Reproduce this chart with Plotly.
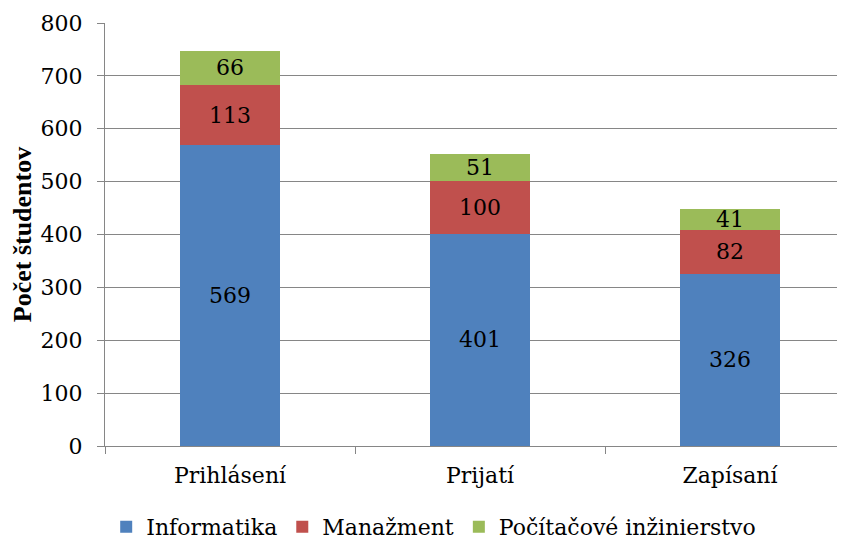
import plotly.graph_objects as go

categories = ["Prihlásení", "Prijatí", "Zapísaní"]
series_names = ["Informatika", "Manažment", "Počítačové inžinierstvo"]
informatika = [569, 401, 326]
manazment = [113, 100, 82]
pocitacove = [66, 51, 41]
colors = ["#4F81BD", "#C0504D", "#9BBB59"]

FONT = "DejaVu Serif"
SIZE = 22
fig = go.Figure()
for name, vals, col in zip(series_names, [informatika, manazment, pocitacove], colors):
    fig.add_trace(go.Bar(
        x=categories, y=vals, name=name, marker=dict(color=col, line=dict(width=0)),
        text=[str(v) for v in vals], textposition="inside", insidetextanchor="middle",
        textangle=0,
        textfont=dict(family=FONT, size=SIZE, color="black"), constraintext="none",
    ))

fig.update_layout(
    barmode="stack", bargap=0.6,
    width=860, height=542,
    margin=dict(l=97, r=13, t=15, b=104, autoexpand=False),
    paper_bgcolor="white", plot_bgcolor="white",
    font=dict(family=FONT, size=SIZE, color="black"),
    uniformtext=dict(minsize=10, mode=False),
    legend=dict(orientation="h", x=0.495, xanchor="center", xref="container",
                y=0.004, yanchor="bottom", yref="container",
                font=dict(family=FONT, size=SIZE), itemwidth=30, traceorder="normal",
                tracegroupgap=0),
    showlegend=True,
)
fig.update_yaxes(
    range=[0, 800], dtick=100, showgrid=True, gridcolor="#868686", gridwidth=1,
    showline=True, linecolor="#868686", linewidth=1,
    ticks="outside", ticklen=7, tickcolor="#868686", ticklabelstandoff=10,
    tickfont=dict(family=FONT, size=SIZE), automargin=False,
    title=dict(text="<b>Počet študentov</b>", font=dict(family="Liberation Serif", size=26), standoff=14),
    zeroline=False,
)
fig.update_xaxes(
    showline=True, linecolor="#868686", linewidth=1,
    ticks="outside", ticklen=7, tickcolor="#868686", tickson="boundaries",
    ticklabelstandoff=10,
    tickfont=dict(family=FONT, size=SIZE), automargin=False,
)
fig.write_html("out.html")
